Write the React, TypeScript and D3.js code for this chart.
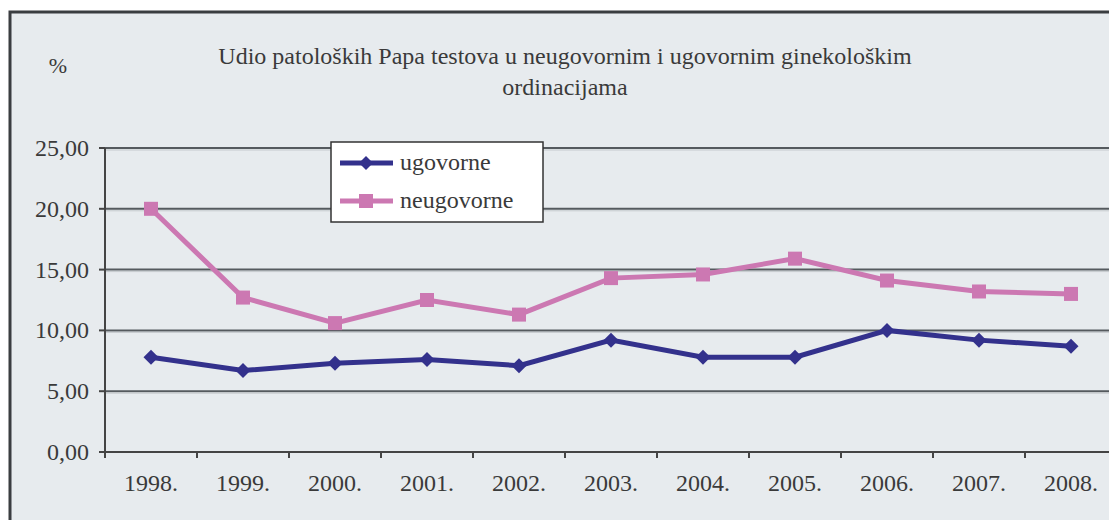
import React from "react";
import * as d3 from "d3";

const years = ["1998.", "1999.", "2000.", "2001.", "2002.", "2003.", "2004.", "2005.", "2006.", "2007.", "2008."];
const ugovorne = [7.8, 6.7, 7.3, 7.6, 7.1, 9.2, 7.8, 7.8, 10.0, 9.2, 8.7];
const neugovorne = [20.0, 12.7, 10.6, 12.5, 11.3, 14.3, 14.6, 15.9, 14.1, 13.2, 13.0];
const yTicks = [0, 5, 10, 15, 20, 25];
const titleLines = ["Udio patoloških Papa testova u neugovornim i ugovornim ginekološkim", "ordinacijama"];
const seriesNames = ["ugovorne", "neugovorne"];

const W = 1109, H = 520;
const FONT = "Liberation Serif";
const C_U = "#33318c";
const C_N = "#cc78b2";
const TXT = "#3a3a3a";
const ts = { fontFamily: FONT };

export default function App() {
  const x = d3.scaleBand<string>().domain(years).range([105, 1117]).padding(0);
  const y = d3.scaleLinear().domain([0, 25]).range([452, 148]);
  const cx = (i: number) => (x(years[i]) as number) + x.bandwidth() / 2;
  const line = d3.line<number>().x((_, i) => cx(i)).y((d) => y(d));
  const fmt = (v: number) => v.toFixed(2).replace(".", ",");
  const diamond = (px: number, py: number, r: number) =>
    `M${px},${py - r}L${px + r},${py}L${px},${py + r}L${px - r},${py}Z`;

  return (
    <svg width={W} height={H} style={{ position: "absolute", left: 0, top: 0 }}>
      <rect x={0} y={0} width={W} height={H} fill="#ffffff" />
      <rect x={10} y={12} width={W + 20} height={H + 20} fill="#e7ebee" stroke="#3a3d40" strokeWidth={3} />
      {titleLines.map((t, i) => (
        <text key={i} x={565} y={64 + i * 31} textAnchor="middle" fontSize={24} fill={TXT} style={ts}>
          {t}
        </text>
      ))}
      <text x={58} y={73} textAnchor="middle" fontSize={22} fill={TXT} style={ts}>%</text>
      {yTicks.filter((v) => v > 0).map((v) => (
        <g key={v}>
          <line x1={105} x2={W} y1={y(v)} y2={y(v)} stroke="#555a5e" strokeWidth={2} />
          <line x1={105} x2={W} y1={y(v) + 2} y2={y(v) + 2} stroke="#c5cacd" strokeWidth={1} />
        </g>
      ))}
      <line x1={105} x2={105} y1={148} y2={452} stroke="#444" strokeWidth={2} />
      <line x1={105} x2={W} y1={452} y2={452} stroke="#444" strokeWidth={2} />
      {yTicks.map((v) => (
        <g key={v}>
          <line x1={99} x2={105} y1={y(v)} y2={y(v)} stroke="#444" strokeWidth={2} />
          <text x={89} y={y(v) + 8} textAnchor="end" fontSize={24} fill={TXT} style={ts}>{fmt(v)}</text>
        </g>
      ))}
      {years.map((yr, i) => (
        <g key={yr}>
          <line x1={x(yr) as number} x2={x(yr) as number} y1={452} y2={458} stroke="#444" strokeWidth={2} />
          <text x={cx(i)} y={491} textAnchor="middle" fontSize={24} fill={TXT} style={ts}>{yr}</text>
        </g>
      ))}
      <path d={line(neugovorne) || ""} fill="none" stroke={C_N} strokeWidth={5} />
      {neugovorne.map((v, i) => (
        <rect key={i} x={cx(i) - 7} y={y(v) - 7} width={14} height={14} fill={C_N} />
      ))}
      <path d={line(ugovorne) || ""} fill="none" stroke={C_U} strokeWidth={5} />
      {ugovorne.map((v, i) => (
        <path key={i} d={diamond(cx(i), y(v), 7.5)} fill={C_U} />
      ))}
      <rect x={331} y={142} width={212} height={80} fill="#ffffff" stroke="#333" strokeWidth={1.5} />
      <line x1={340} x2={393} y1={163} y2={163} stroke={C_U} strokeWidth={5} />
      <path d={diamond(366, 163, 7)} fill={C_U} />
      <text x={400} y={170} fontSize={24} fill={TXT} style={ts}>{seriesNames[0]}</text>
      <line x1={340} x2={393} y1={201} y2={201} stroke={C_N} strokeWidth={5} />
      <rect x={359} y={194} width={14} height={14} fill={C_N} />
      <text x={400} y={208} fontSize={24} fill={TXT} style={ts}>{seriesNames[1]}</text>
    </svg>
  );
}
